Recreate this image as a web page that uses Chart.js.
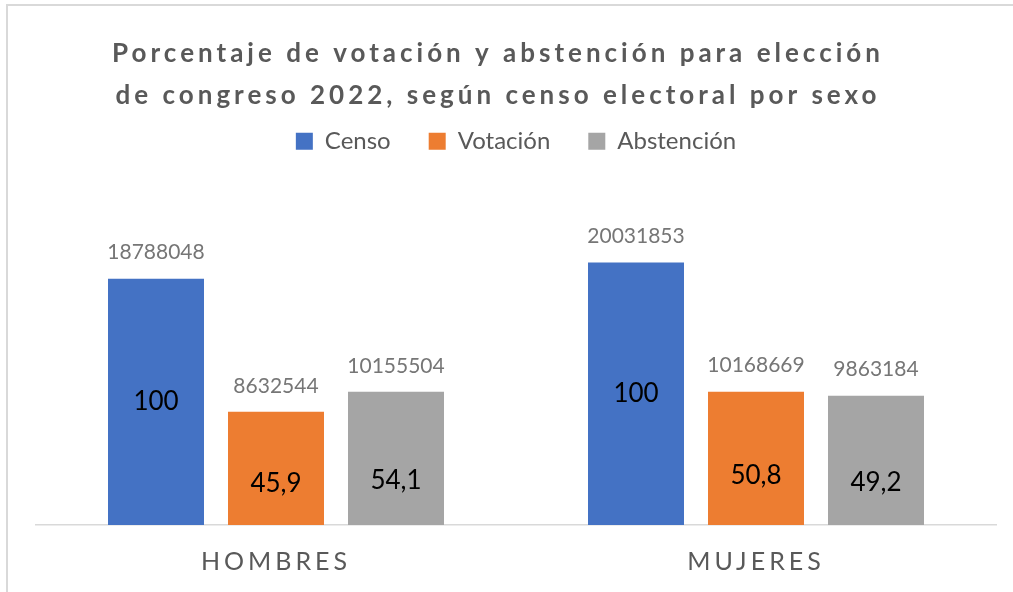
<!DOCTYPE html>
<html><head><meta charset="utf-8">
<script src="https://cdn.jsdelivr.net/npm/chart.js@4.4.1/dist/chart.umd.min.js"></script>
<style>
html,body{margin:0;padding:0;background:#fff;overflow:hidden}
#frame{position:absolute;left:6px;top:4px;width:1100px;height:700px;border-left:2px solid #d9d9d9;border-top:2px solid #d9d9d9;}
#wrap{position:absolute;left:0;top:0;width:1013px;height:592px}
</style></head><body>
<div id="frame"></div>
<div id="wrap"><canvas id="c" width="1013" height="592"></canvas></div>
<script>
const titleLines = ['Porcentaje de votación y abstención para elección', 'de congreso 2022, según censo electoral por sexo'];
const categories = ['HOMBRES', 'MUJERES'];
const seriesNames = ['Censo', 'Votación', 'Abstención'];
const censo = [18788048, 20031853];
const votacion = [8632544, 10168669];
const abstencion = [10155504, 9863184];
const pctCenso = [100, 100];
const pctVotacion = [45.9, 50.8];
const pctAbstencion = [54.1, 49.2];

const FONT = 'Lato, "Open Sans", sans-serif';
const fmtPct = v => String(v).replace('.', ',');

const spacingPlugin = {
  id: 'spacing',
  beforeDraw(chart, args, opts) {
    const t = chart.titleBlock;
    if (t && !t._wrapped) {
      const orig = t.draw.bind(t);
      t.draw = function () {
        const ctx = chart.ctx;
        ctx.save();
        ctx.letterSpacing = opts.title + 'px';
        ctx.translate(opts.titleShift, 0);
        orig();
        ctx.restore();
      };
      t._wrapped = true;
    }
    const x = chart.scales.x;
    if (x && !x._wrapped) {
      const origL = x.drawLabels.bind(x);
      x.drawLabels = function (a) {
        const ctx = chart.ctx;
        ctx.save();
        ctx.letterSpacing = opts.ticks + 'px';
        origL(a);
        ctx.restore();
      };
      x._wrapped = true;
    }
  }
};

const labelPlugin = {
  id: 'barLabels',
  afterDatasetsDraw(chart, args, opts) {
    const ctx = chart.ctx;
    chart.data.datasets.forEach((ds, di) => {
      const meta = chart.getDatasetMeta(di);
      meta.data.forEach((bar, i) => {
        ctx.save();
        ctx.textAlign = 'center';
        ctx.textBaseline = 'middle';
        ctx.fillStyle = opts.topColor;
        ctx.font = opts.topFont;
        ctx.fillText(String(ds.data[i]), bar.x, bar.y - opts.topGap);
        ctx.fillStyle = opts.innerColor;
        ctx.font = opts.innerFont;
        const y = bar.y + (bar.base - bar.y) * ds.pctPos;
        ctx.fillText(fmtPct(ds.pct[i]), bar.x, y);
        ctx.restore();
      });
    });
  }
};

new Chart(document.getElementById('c'), {
  type: 'bar',
  data: {
    labels: categories,
    datasets: [
      { label: seriesNames[0], data: censo, pct: pctCenso, pctPos: 0.5, backgroundColor: '#4472C4' },
      { label: seriesNames[1], data: votacion, pct: pctVotacion, pctPos: 0.63, backgroundColor: '#ED7D31' },
      { label: seriesNames[2], data: abstencion, pct: pctAbstencion, pctPos: 0.67, backgroundColor: '#A5A5A5' }
    ]
  },
  options: {
    responsive: false,
    animation: false,
    events: [],
    layout: { padding: { top: 24, left: 36, right: 17, bottom: -7 } },
    datasets: { bar: { categoryPercentage: 0.75, barPercentage: 0.8 } },
    scales: {
      x: {
        grid: { display: false, drawTicks: false },
        border: { display: true, color: '#d9d9d9', width: 1.5 },
        ticks: { color: '#595959', font: { family: FONT, size: 25 }, padding: 22 }
      },
      y: { display: false, min: 0, max: 27600000 }
    },
    plugins: {
      tooltip: { enabled: false },
      title: {
        display: true,
        text: titleLines,
        color: '#595959',
        font: { family: FONT, size: 26, weight: 'bold', lineHeight: 1.6 },
        padding: { top: 9, bottom: -25 }
      },
      legend: {
        display: true,
        labels: {
          color: '#595959',
          font: { family: FONT, size: 24 },
          boxWidth: 17, boxHeight: 17,
          padding: 38
        }
      },
      spacing: { title: 4, titleShift: -18, ticks: 4 },
      barLabels: {
        topColor: '#767676', topFont: '21px ' + FONT, topGap: 26,
        innerColor: '#000000', innerFont: '26px ' + FONT
      }
    }
  },
  plugins: [spacingPlugin, labelPlugin]
});
</script>
</body></html>
